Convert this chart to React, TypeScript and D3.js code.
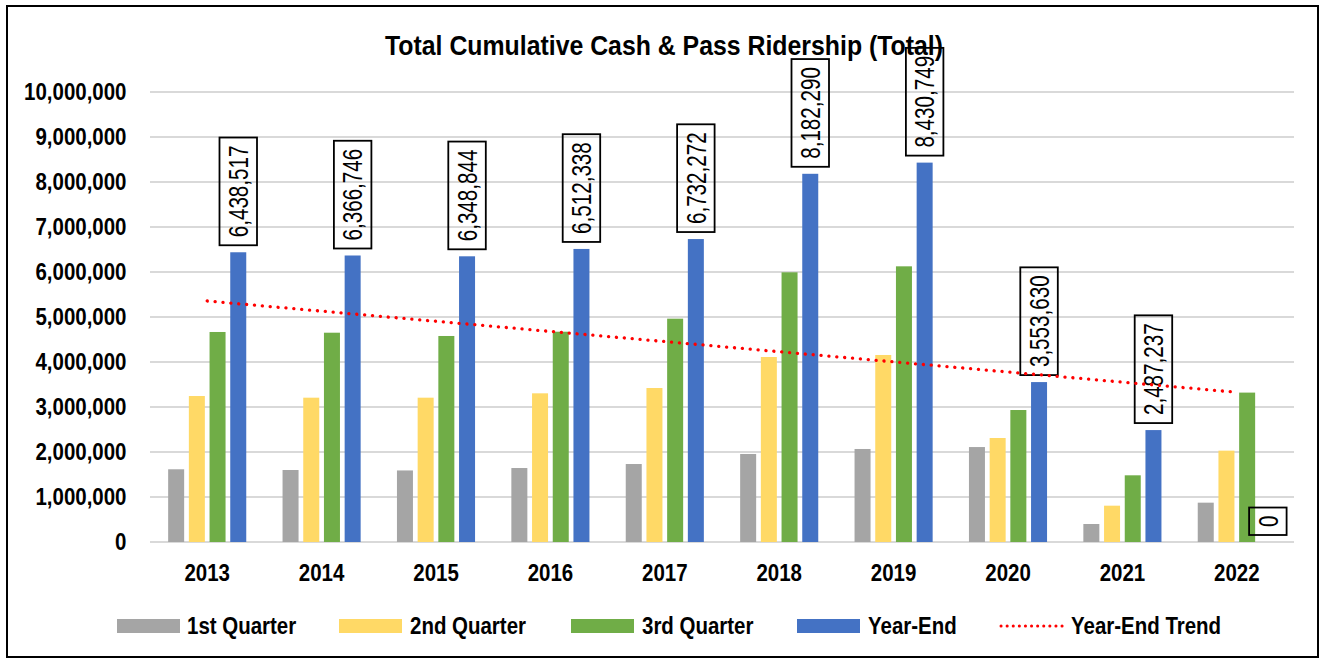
import React from "react";
import * as d3 from "d3";

const years = ["2013", "2014", "2015", "2016", "2017", "2018", "2019", "2020", "2021", "2022"];
const q1 = [1616000, 1600000, 1590000, 1644000, 1733000, 1956000, 2067000, 2110000, 400000, 874000];
const q2 = [3244000, 3207000, 3207000, 3304000, 3422000, 4111000, 4156000, 2311000, 807000, 2030000];
const q3 = [4667000, 4651000, 4578000, 4673000, 4963000, 5993000, 6126000, 2933000, 1482000, 3320000];
const yearEnd = [6438517, 6366746, 6348844, 6512338, 6732272, 8182290, 8430749, 3553630, 2487237, 0];
const trendStart = 5356000;
const trendEnd = 3327000;
const yTicks = [0, 1000000, 2000000, 3000000, 4000000, 5000000, 6000000, 7000000, 8000000, 9000000, 10000000];

const seriesNames = ["1st Quarter", "2nd Quarter", "3rd Quarter", "Year-End"];
const seriesColors = ["#A5A5A5", "#FFD966", "#70AD47", "#4472C4"];
const seriesData = [q1, q2, q3, yearEnd];

const FONT = "'Liberation Sans', Arial, Helvetica, sans-serif";
const fmt = d3.format(",");

function SText(props: any) {
  const { x, y, anchor = "start", size, weight = "normal", sx = 1, rotate = 0, children, fill = "#000" } = props;
  return (
    <text
      transform={`translate(${x},${y}) rotate(${rotate}) scale(${sx},1)`}
      textAnchor={anchor}
      fontSize={size}
      fontWeight={weight}
      fontFamily={FONT}
      fill={fill}
    >
      {children}
    </text>
  );
}

function textLen(s: string, size: number, sx: number) {
  let w = 0;
  for (const c of s) w += c === "," ? 0.278 : 0.556;
  return w * size * sx;
}

export default function App() {
  const W = 1320;
  const H = 660;
  const x0 = d3.scaleBand<string>().domain(years).range([150, 1294]).paddingInner(0).paddingOuter(0);
  const x1 = d3.scaleBand<string>().domain(seriesNames).range([-39.05, 39.05]).paddingInner(0.227).paddingOuter(0);
  const y = d3.scaleLinear().domain([0, 10000000]).range([542, 92]);
  const cx = (yr: string) => (x0(yr) as number) + x0.bandwidth() / 2;

  const labSize = 27.5;
  const labSx = 0.75;
  const boldSize = 23;
  const boldSx = 0.89;

  const trendLine = d3.line<[number, number]>().x((d) => d[0]).y((d) => d[1]);
  const trendPts: [number, number][] = [
    [cx(years[0]), y(trendStart)],
    [cx(years[years.length - 1]), y(trendEnd)],
  ];

  const legendItems = [
    { name: "1st Quarter", color: seriesColors[0], sw: 117, tx: 187 },
    { name: "2nd Quarter", color: seriesColors[1], sw: 339, tx: 410 },
    { name: "3rd Quarter", color: seriesColors[2], sw: 571, tx: 642 },
    { name: "Year-End", color: seriesColors[3], sw: 797, tx: 868 },
  ];

  return (
    <svg
      width={W}
      height={H}
      style={{ position: "absolute", left: 0, top: 0, background: "#fff" }}
    >
      <rect x={0} y={0} width={W} height={H} fill="#fff" />
      <rect x={7} y={6} width={1311} height={651} fill="none" stroke="#000" strokeWidth={2} />

      {/* gridlines */}
      {yTicks.map((t) => (
        <line key={t} x1={150} x2={1294} y1={y(t)} y2={y(t)} stroke="#D9D9D9" strokeWidth={2} />
      ))}

      {/* y tick labels */}
      {yTicks.map((t) => (
        <SText key={"yl" + t} x={126.5} y={y(t) + 8.2} anchor="end" size={boldSize} weight="bold" sx={boldSx}>
          {fmt(t)}
        </SText>
      ))}

      {/* x labels */}
      {years.map((yr) => (
        <SText key={"xl" + yr} x={cx(yr)} y={581} anchor="middle" size={boldSize} weight="bold" sx={boldSx}>
          {yr}
        </SText>
      ))}

      {/* bars */}
      {years.map((yr, i) => (
        <g key={"g" + yr} transform={`translate(${cx(yr)},0)`}>
          {seriesNames.map((s, j) => {
            const v = seriesData[j][i];
            return (
              <rect
                key={s}
                x={x1(s) as number}
                y={y(v)}
                width={x1.bandwidth()}
                height={y(0) - y(v)}
                fill={seriesColors[j]}
              />
            );
          })}
        </g>
      ))}

      {/* title */}
      <text
        x={385}
        y={55}
        fontSize={27.5}
        fontWeight="bold"
        fontFamily={FONT}
        textLength={558}
        lengthAdjust="spacingAndGlyphs"
      >
        Total Cumulative Cash &amp; Pass Ridership (Total)
      </text>

      {/* data labels for Year-End */}
      {years.map((yr, i) => {
        const v = yearEnd[i];
        const s = fmt(v);
        const bx = cx(yr) + (x1("Year-End") as number) + x1.bandwidth() / 2;
        const len = textLen(s, labSize, labSx);
        const bh = len + 16;
        const bottom = y(v) - 7;
        const top = bottom - bh;
        const bw = 37.5;
        return (
          <g key={"lab" + yr}>
            <rect x={bx - bw / 2} y={top} width={bw} height={bh} fill="none" stroke="#000" strokeWidth={1.8} />
            <SText x={bx + 9.8} y={(top + bottom) / 2} anchor="middle" size={labSize} sx={labSx} rotate={-90}>
              {s}
            </SText>
          </g>
        );
      })}

      {/* trend line */}
      <path
        d={trendLine(trendPts) as string}
        fill="none"
        stroke="#FF0000"
        strokeWidth={3.3}
        strokeDasharray="0.1 7.8"
        strokeLinecap="round"
      />

      {/* legend */}
      {legendItems.map((it) => (
        <g key={"lg" + it.name}>
          <rect x={it.sw} y={619} width={63} height={14} fill={it.color} />
          <SText x={it.tx} y={634} size={boldSize} weight="bold" sx={boldSx}>
            {it.name}
          </SText>
        </g>
      ))}
      <line
        x1={1001}
        x2={1065}
        y1={626}
        y2={626}
        stroke="#FF0000"
        strokeWidth={3}
        strokeDasharray="0.1 6"
        strokeLinecap="round"
      />
      <SText x={1071} y={634} size={boldSize} weight="bold" sx={boldSx}>
        Year-End Trend
      </SText>
    </svg>
  );
}
